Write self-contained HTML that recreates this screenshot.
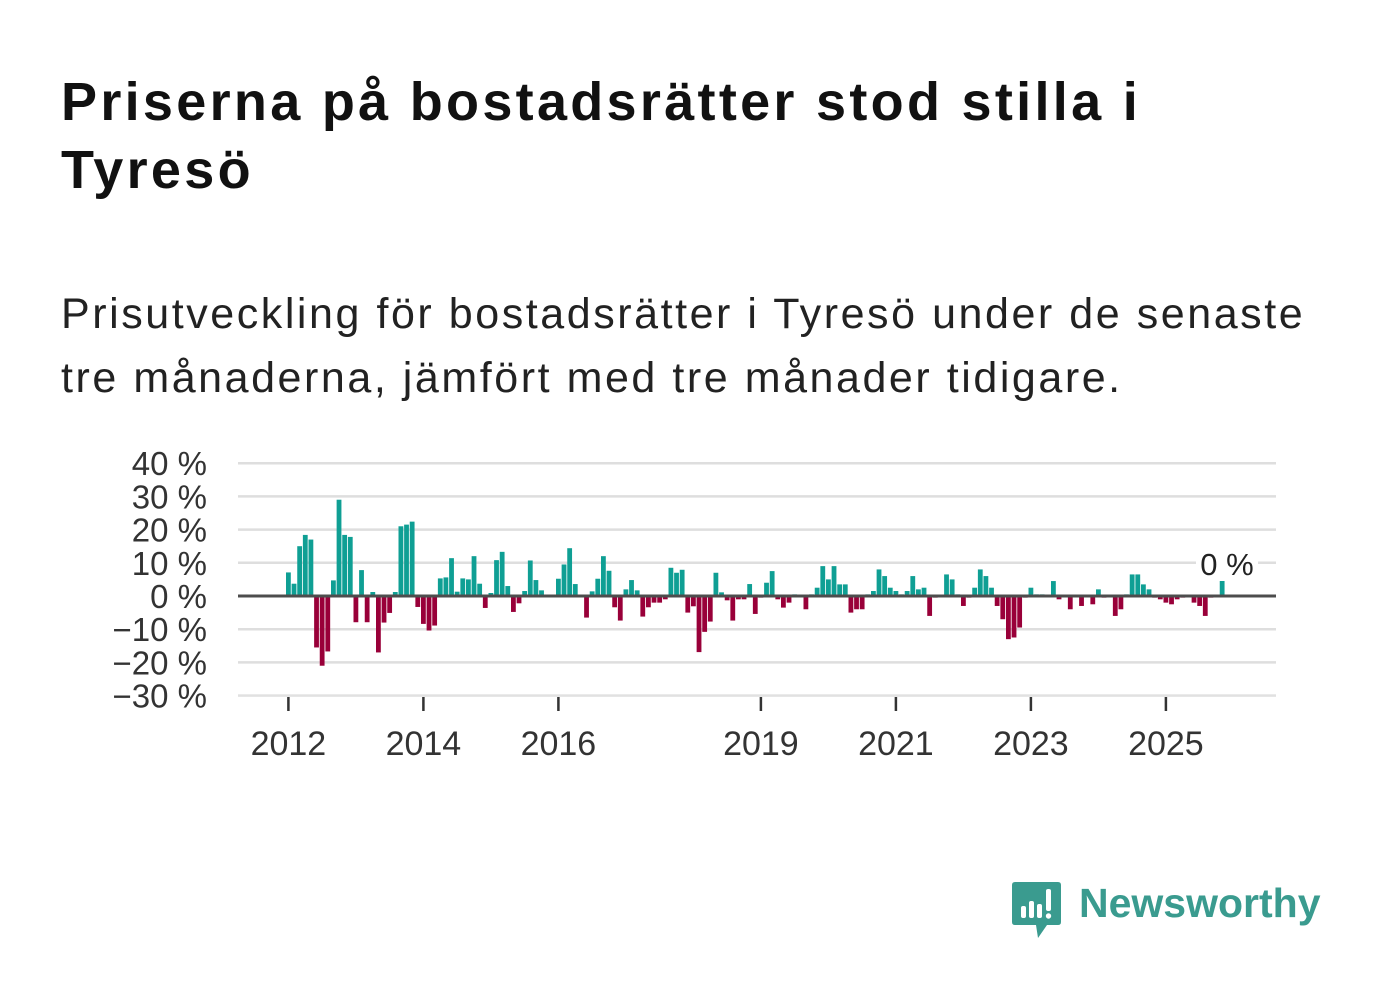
<!DOCTYPE html>
<html><head><meta charset="utf-8">
<style>
body{margin:0;width:1382px;height:999px;background:#fff;overflow:hidden;font-family:"Liberation Sans","DejaVu Sans",sans-serif;}
#title{position:absolute;left:61px;top:68px;font-size:54px;font-weight:bold;line-height:68px;color:#111;margin:0;width:1320px;letter-spacing:3.3px;white-space:nowrap;}
#sub{position:absolute;left:61px;top:282px;font-size:43px;line-height:64px;color:#222;width:1320px;letter-spacing:2.55px;white-space:nowrap;}
svg{position:absolute;left:0;top:0;}
</style></head><body>
<h1 id="title">Priserna på bostadsrätter stod stilla i<br>Tyresö</h1>
<div id="sub">Prisutveckling för bostadsrätter i Tyresö under de senaste<br>tre månaderna, jämfört med tre månader tidigare.</div>
<svg id="chart" width="1382" height="999"></svg>
<div style="position:absolute;left:1012px;top:880px;width:310px;height:60px;">
<svg width="50" height="60" style="left:0;top:0">
<path d="M3 2 H46 Q49 2 49 5 V42 Q49 45 46 45 H35 L26 58 L24 45 H3 Q0 45 0 42 V5 Q0 2 3 2Z" fill="#3a9b8f"/>
<rect x="9" y="26" width="5" height="12" rx="2" fill="#fff"/><rect x="17" y="21" width="5" height="17" rx="2" fill="#fff"/><rect x="25" y="24" width="5" height="14" rx="2" fill="#fff"/><rect x="34" y="9" width="5" height="22" rx="2" fill="#fff"/><circle cx="36.5" cy="36" r="2.7" fill="#fff"/>
</svg>
<div style="position:absolute;left:67px;top:0px;font-size:41px;font-weight:bold;color:#3a9b8f;">Newsworthy</div>
</div>
<script>
const years=["2012","2014","2016","2019","2021","2023","2025"];
const yearIdx=[0,24,48,84,108,132,156];
const yTicks=[40,30,20,10,0,-10,-20,-30];
const values=[7.1,3.7,15,18.4,17,-15.5,-21,-16.7,4.7,29,18.4,17.8,
-7.9,7.8,-7.9,1.2,-17,-8,-5.1,1.2,21,21.5,22.4,-3.3,
-8.4,-10.4,-8.9,5.3,5.6,11.4,1.3,5.3,5,12,3.7,-3.6,
0.9,10.8,13.3,3,-4.8,-2.2,1.5,10.7,4.8,1.7,0,0,
5.2,9.5,14.4,3.6,0,-6.5,1.4,5.2,12,7.6,-3.4,-7.4,
2,4.8,1.7,-6.2,-3.4,-2,-2,-1,8.5,7,7.9,-5,
-3.1,-16.9,-10.8,-7.7,7,1.1,-1.3,-7.4,-1,-1,3.6,-5.4,
-0.5,4,7.5,-1,-3.5,-2,0.5,0,-4,0.5,2.5,9,
5,9,3.5,3.5,-5,-4,-4,0.5,1.5,8,6,2.5,
1.5,0.5,1.5,6,2,2.5,-6,-0.5,0,6.5,5,0.5,
-3,-0.5,2.5,8,6,2.5,-3,-7,-13,-12.5,-9.5,-0.5,
2.5,0.5,0.5,0,4.5,-1,0,-4,0,-3,0,-2.5,
2,-0.5,0,-6,-4,0.5,6.5,6.5,3.5,2,-0.5,-1,
-2,-2.5,-1,-0.5,0,-2,-3,-6,-0.5,0,6];
const lastLabel="0 %";
const svg=document.getElementById('chart');
const NS="http://www.w3.org/2000/svg";
const X0=238,X1=1276;
function xs(i){return 286+5.625*i;}
function ys(v){return 596-v*3.32;}
function el(t,a){const e=document.createElementNS(NS,t);for(const k in a)e.setAttribute(k,a[k]);svg.appendChild(e);return e;}
yTicks.forEach(v=>{
 if(v!==0){const g=el('line',{x1:X0,x2:X1,y1:ys(v),y2:ys(v),stroke:'#dedede','stroke-width':2.5});
 
 }
 const t=el('text',{x:207,y:ys(v)+12,'text-anchor':'end','font-size':33,fill:'#333','font-family':'Liberation Sans, sans-serif'});
 t.textContent=(v<0?'\u2212'+(-v):v)+' %';
 
 
});
const bl=el('line',{x1:X0,x2:X1,y1:ys(-30)+0.5,y2:ys(-30)+0.5,stroke:'#e6e6e6','stroke-width':1});


values.forEach((v,i)=>{
 const y=ys(Math.max(v,0)),h=Math.abs(v)*3.32;
 const r=el('rect',{x:xs(i),y:y,width:4.8,height:h,fill:v>=0?'#0f9f94':'#990039'});
 
 
});
const z=el('line',{x1:X0,x2:X1,y1:596,y2:596,stroke:'#4d4d4d','stroke-width':3});


years.forEach((yr,k)=>{
 const x=xs(yearIdx[k])+2.4;
 const tk=el('line',{x1:x,x2:x,y1:697,y2:711,stroke:'#333','stroke-width':2.5});
 
 
 const t=el('text',{x:x,y:755,'text-anchor':'middle','font-size':34,fill:'#333','font-family':'Liberation Sans, sans-serif'});
 t.textContent=yr;
 
 
});
const lb=el('rect',{x:1196,y:545,width:62,height:36,fill:'#fff'});


const lt=el('text',{x:1227,y:575,'text-anchor':'middle','font-size':31,fill:'#222','font-family':'Liberation Sans, sans-serif'});
lt.textContent=lastLabel;


</script>
</body></html>
